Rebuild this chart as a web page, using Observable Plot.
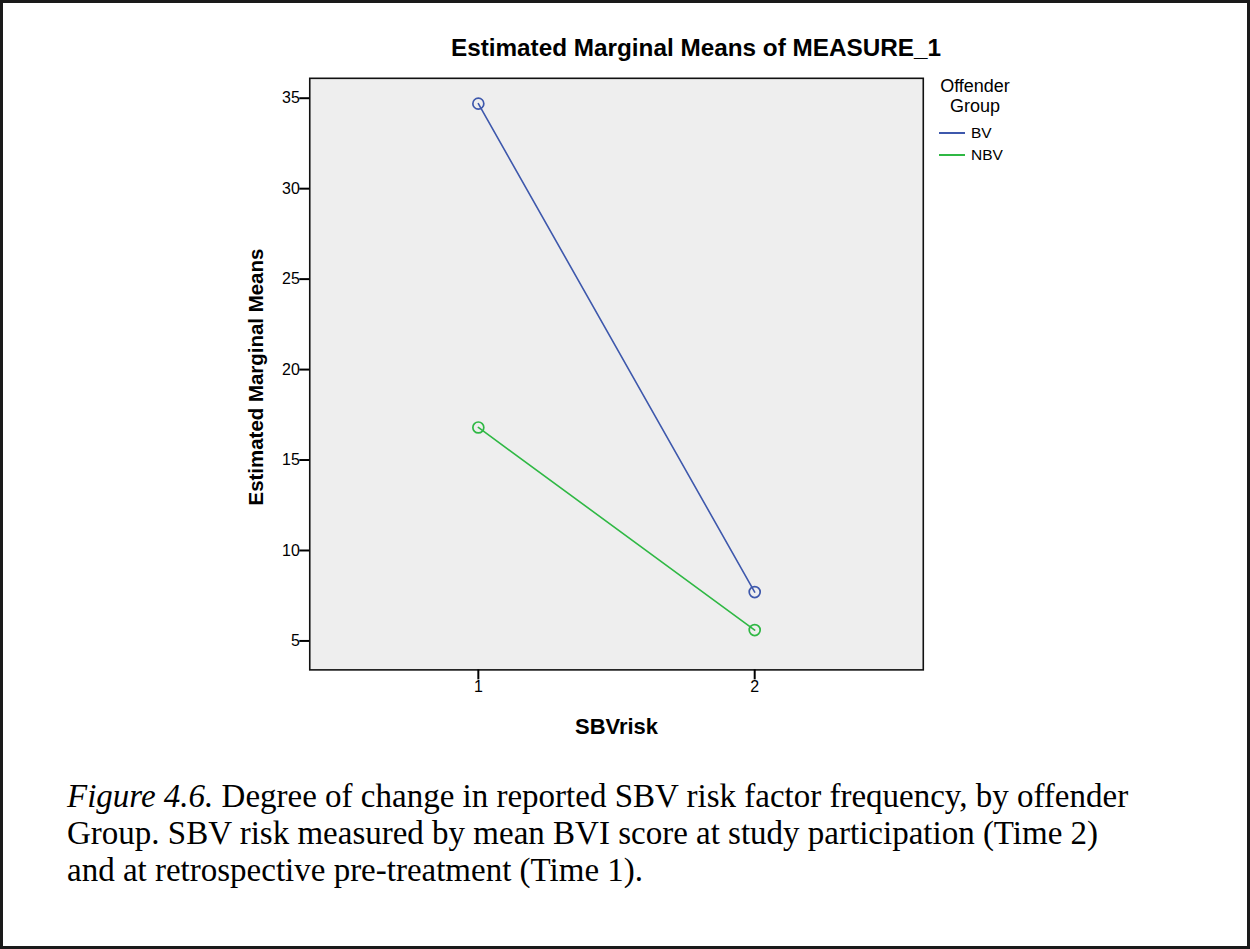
<!DOCTYPE html>
<html><head><meta charset="utf-8">
<script src="https://cdn.jsdelivr.net/npm/d3@7"></script>
<script src="https://cdn.jsdelivr.net/npm/@observablehq/plot@0.6"></script>
<style>
html,body{margin:0;padding:0;background:#fff;}
#page{position:relative;width:1250px;height:949px;box-sizing:border-box;border:3px solid #1a1a1a;overflow:hidden;}
#chart{position:absolute;left:-3px;top:-3px;}
.abs{position:absolute;white-space:nowrap;}
#title{font:bold 24.3px "Liberation Sans",Arial,sans-serif;color:#000;}
#legend{font-family:"Liberation Sans",Arial,sans-serif;color:#000;}
#caption{font:33px "Liberation Serif","Times New Roman",serif;color:#000;line-height:37px;}
</style></head>
<body><div id="page">
<div id="chart"></div>
</div>
<script>
const sbvrisk = [1, 2];
const groups = ["BV", "NBV"];
const bvMeans = [34.7, 7.7];
const nbvMeans = [16.8, 5.6];
const groupColors = ["#3e58ac", "#2fb844"];
const yTicks = [5, 10, 15, 20, 25, 30, 35];
const xTicks = [1, 2];
const titleText = "Estimated Marginal Means of MEASURE_1";
const legendTitle = ["Offender", "Group"];

const rows = [];
sbvrisk.forEach((x, i) => rows.push({x, y: bvMeans[i], g: groups[0]}));
sbvrisk.forEach((x, i) => rows.push({x, y: nbvMeans[i], g: groups[1]}));

const W = 1250, H = 760;
const plot = Plot.plot({
  width: W, height: H,
  marginLeft: 310, marginRight: W - 925, marginTop: 78, marginBottom: H - 671,
  style: {fontFamily: "'Liberation Sans', Arial, sans-serif", fontSize: "16px", background: "transparent", overflow: "visible"},
  x: {domain: [0.39, 2.61], label: null},
  y: {domain: [3.4, 36.1], label: null},
  color: {domain: groups, range: groupColors},
  marks: [
    Plot.frame({fill: "#eeeeee", stroke: "none"}),
    Plot.line(rows, {x: "x", y: "y", z: "g", stroke: "g", strokeWidth: 1.6}),
    Plot.dot(rows, {x: "x", y: "y", stroke: "g", r: 5.5, strokeWidth: 1.7, fill: "none"}),
    Plot.frame({stroke: "#111", strokeWidth: 1.6}),
    Plot.axisY({ticks: yTicks, tickSize: 10, tickFormat: () => "", label: null, stroke: "#000", strokeWidth: 2}),
    Plot.axisX({ticks: xTicks, tickSize: 10, tickFormat: () => "", label: null, stroke: "#000", strokeWidth: 2}),
    Plot.text(yTicks, {y: d => d, frameAnchor: "left", dx: -10, textAnchor: "end", text: d => String(d), fontSize: 16, fill: "#000"}),
    Plot.text(xTicks, {x: d => d, frameAnchor: "bottom", dy: 22, textAnchor: "middle", text: d => String(d), fontSize: 16, fill: "#000"}),
    Plot.text(["Estimated Marginal Means"], {frameAnchor: "left", dx: -53, dy: 3, rotate: -90, textAnchor: "middle", text: d => d, fontSize: 20.5, fontWeight: "bold"}),
    Plot.text(["SBVrisk"], {frameAnchor: "bottom", dy: 64, textAnchor: "middle", text: d => d, fontSize: 22, fontWeight: "bold"})
  ]
});
document.getElementById("chart").appendChild(plot);

const page = document.getElementById("page");
function addDiv(id, cls, html, css) {
  const d = document.createElement("div");
  if (id) d.id = id;
  d.className = cls;
  d.innerHTML = html;
  Object.assign(d.style, css);
  page.appendChild(d);
  return d;
}
addDiv("title", "abs", titleText, {left: "0px", top: "31px", width: (696 * 2 - 6) + "px", textAlign: "center"});

const leg = addDiv("legend", "abs", "", {left: "918px", top: "74px"});
leg.innerHTML =
  `<div style="width:108px;text-align:center;font-size:18px;line-height:19.5px;">${legendTitle[0]}<br>${legendTitle[1]}</div>` +
  groups.map((g, i) => `<div style="display:flex;align-items:center;margin-left:18px;height:22px;${i===0?'margin-top:6px;':''}font-size:15.5px;">
     <span style="display:inline-block;width:26px;height:0;border-top:2px solid ${groupColors[i]};margin-right:6px;"></span>${g}</div>`).join("");

addDiv("caption", "abs",
  "<i>Figure 4.6.</i> Degree of change in reported SBV risk factor frequency, by offender<br>" +
  "Group. SBV risk measured by mean BVI score at study participation (Time 2)<br>" +
  "and at retrospective pre-treatment (Time 1).",
  {left: "64px", top: "775px"});
</script>
</body></html>
